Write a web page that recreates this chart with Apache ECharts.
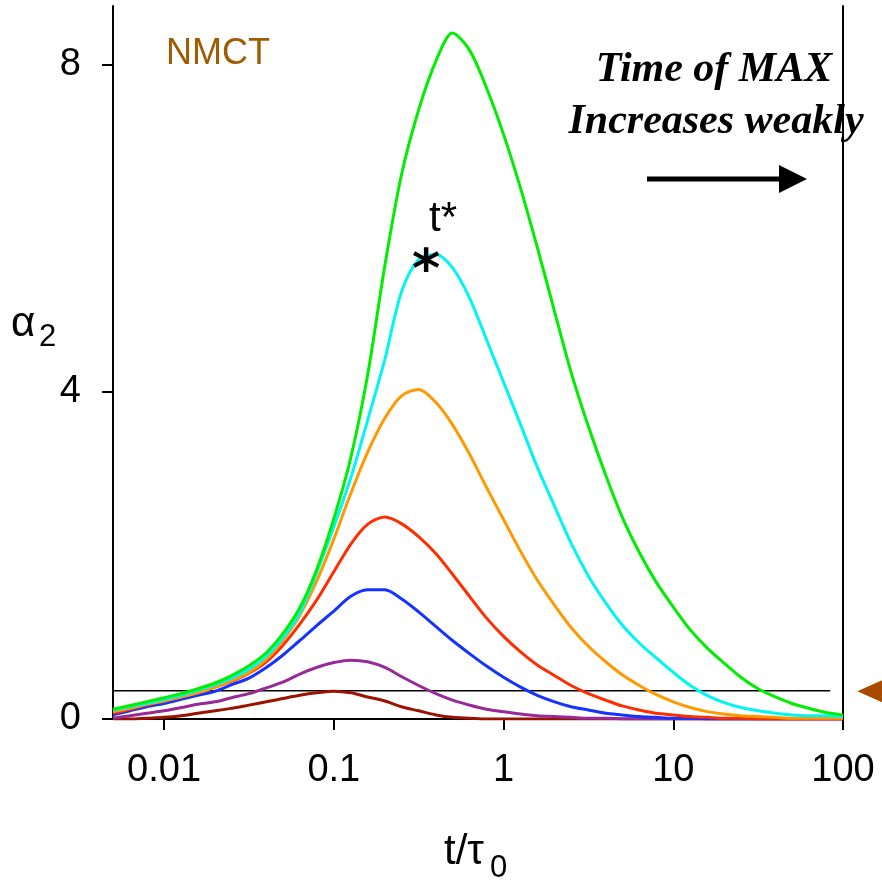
<!DOCTYPE html>
<html>
<head>
<meta charset="utf-8">
<script src="https://cdn.jsdelivr.net/npm/echarts@6/dist/echarts.min.js"></script>
<style>html,body{margin:0;padding:0;background:#fff}#c{width:882px;height:882px}</style>
</head>
<body>
<div id="c"></div>
<script>
// ---- data ----
const tVals = [0.005,0.0063,0.0079,0.01,0.0126,0.0158,0.02,0.025,0.0316,0.04,
               0.05,0.063,0.079,0.1,0.126,0.158,0.2,0.25,0.316,0.4,
               0.5,0.63,0.79,1,1.26,1.58,2,2.5,3.16,4,
               5,6.3,7.9,10,12.6,15.8,20,25,31.6,40,
               50,63,79,100];
const brownVals  = [0,0,0.01,0.02,0.04,0.07,0.1,0.13,0.17,0.21,
                    0.25,0.29,0.32,0.34,0.32,0.27,0.22,0.15,0.1,0.05,
                    0.02,0.01,0,0,0,0,0,0,0,0,
                    0,0,0,0,0,0,0,0,0,0,
                    0,0,0,0];
const purpleVals = [0.01,0.04,0.07,0.1,0.14,0.18,0.21,0.26,0.31,0.38,
                    0.45,0.55,0.63,0.69,0.72,0.7,0.63,0.52,0.41,0.31,
                    0.23,0.17,0.12,0.09,0.06,0.04,0.03,0.02,0.01,0.01,
                    0,0,0,0,0,0,0,0,0,0,
                    0,0,0,0];
const blueVals   = [0.05,0.1,0.15,0.19,0.24,0.29,0.34,0.42,0.5,0.63,
                    0.78,0.96,1.14,1.32,1.5,1.58,1.58,1.47,1.31,1.13,
                    0.96,0.8,0.65,0.51,0.39,0.29,0.21,0.15,0.11,0.07,
                    0.05,0.03,0.02,0.01,0.01,0,0,0,0,0,
                    0,0,0,0];
const redVals    = [0.07,0.12,0.17,0.22,0.27,0.32,0.39,0.46,0.56,0.7,
                    0.9,1.16,1.45,1.8,2.14,2.38,2.47,2.39,2.23,2.02,
                    1.77,1.5,1.24,1.01,0.82,0.66,0.53,0.41,0.31,0.23,
                    0.16,0.11,0.07,0.05,0.03,0.02,0.01,0.01,0,0,
                    0,0,0,0];
const orangeVals = [0.09,0.13,0.18,0.22,0.27,0.32,0.39,0.47,0.57,0.73,
                    0.96,1.27,1.68,2.2,2.76,3.26,3.68,3.95,4.03,3.87,
                    3.6,3.24,2.84,2.44,2.05,1.7,1.39,1.12,0.89,0.7,
                    0.54,0.41,0.3,0.21,0.14,0.09,0.06,0.04,0.03,0.02,
                    0.01,0.01,0.01,0.01];
const cyanVals   = [0.11,0.15,0.19,0.24,0.29,0.35,0.42,0.5,0.61,0.77,
                    0.99,1.3,1.78,2.35,2.95,3.65,4.4,5.22,5.62,5.68,
                    5.52,5.15,4.65,4.12,3.6,3.08,2.6,2.15,1.75,1.42,
                    1.15,0.93,0.75,0.57,0.41,0.29,0.2,0.14,0.1,0.07,
                    0.05,0.04,0.04,0.03];
const greenVals  = [0.12,0.165,0.21,0.26,0.31,0.37,0.44,0.53,0.65,0.81,
                    1.04,1.36,1.82,2.45,3.2,4.2,5.55,6.65,7.45,8.05,
                    8.39,8.18,7.73,7.15,6.49,5.77,4.98,4.24,3.58,2.98,
                    2.47,2.04,1.68,1.37,1.09,0.87,0.68,0.51,0.37,0.27,
                    0.19,0.13,0.08,0.05];
const xTicks = [0.01, 0.1, 1, 10, 100];
const yTicks = [0, 4, 8];
const thresholdX = [0.0043, 84];
const thresholdY = 0.346;
const markerPoint = [155, 0.34];
const tStarPoint = [0.35, 5.63];

const colors = {
  brown: '#9A1200', purple: '#982A98', blue: '#1433FF', red: '#FF2E00',
  orange: '#FF9900', cyan: '#00F5F5', green: '#00EE00'
};

const pair = v => tVals.map((t, i) => [t, v[i]]);
const FONT = 'Liberation Sans';

function curve(name, vals, color) {
  return {
    name, type: 'line', data: pair(vals), smooth: 0.3, showSymbol: false, symbol: 'none',
    lineStyle: { color, width: 3 }, z: 3
  };
}

const chart = echarts.init(document.getElementById('c'), null, { renderer: 'canvas' });
chart.setOption({
  animation: false,
  backgroundColor: '#fff',
  grid: { left: 113, right: 39, top: 6, bottom: 163, outerBoundsMode: 'none', containLabel: false },
  xAxis: {
    type: 'log', logBase: 10, min: 0.005, max: 100,
    axisLine: { show: true, onZero: false, lineStyle: { color: '#000', width: 2 } },
    axisTick: { show: true, length: 11, inside: false, customValues: xTicks, lineStyle: { color: '#000', width: 2 } },
    minorTick: { show: false },
    axisLabel: {
      customValues: xTicks, fontSize: 38, color: '#000', fontFamily: FONT, margin: 33,
      formatter: v => String(v)
    },
    splitLine: { show: false }
  },
  yAxis: [{
    type: 'value', min: 0, max: 8.72,
    axisLine: { show: true, lineStyle: { color: '#000', width: 2 } },
    axisTick: { show: true, length: 11, customValues: yTicks, lineStyle: { color: '#000', width: 2 } },
    axisLabel: { customValues: yTicks, fontSize: 38, color: '#000', fontFamily: FONT, margin: 32 },
    splitLine: { show: false }
  }, {
    type: 'value', min: 0, max: 8.72, position: 'right',
    axisLine: { show: true, lineStyle: { color: '#000', width: 2 } },
    axisTick: { show: false }, axisLabel: { show: false }, splitLine: { show: false }
  }],
  series: [
    {
      name: 'threshold', type: 'line', data: thresholdX.map(x => [x, thresholdY]), clip: false,
      showSymbol: false, symbol: 'none', lineStyle: { color: '#000', width: 1.5 }, z: 2
    },
    curve('brown', brownVals, colors.brown),
    curve('purple', purpleVals, colors.purple),
    curve('blue', blueVals, colors.blue),
    curve('red', redVals, colors.red),
    curve('orange', orangeVals, colors.orange),
    curve('cyan', cyanVals, colors.cyan),
    curve('green', greenVals, colors.green),
    {
      name: 'marker', type: 'scatter', data: [markerPoint], clip: false,
      symbol: 'triangle', symbolRotate: 90, symbolSize: [32, 36],
      itemStyle: { color: '#A84B00', opacity: 1 }, z: 5
    },
    {
      name: 'tstar', type: 'scatter', data: [tStarPoint], clip: false,
      symbolSize: 1, itemStyle: { color: 'rgba(0,0,0,0)', opacity: 1 }, z: 6,
      label: {
        show: true, position: 'inside', formatter: '*', color: '#000', opacity: 1,
        fontFamily: 'DejaVu Sans', fontWeight: 'bold', fontSize: 54, offset: [0, 14]
      }
    }
  ],
  graphic: [
    { type: 'text', x: 166, y: 54, style: { text: 'NMCT', font: '36px "Liberation Sans"', fill: '#A05A00', verticalAlign: 'middle', align: 'left' } },
    { type: 'text', x: 714, y: 70, style: { text: 'Time of MAX', font: 'italic bold 42px "Liberation Serif"', fill: '#000', verticalAlign: 'middle', align: 'center' } },
    { type: 'text', x: 716, y: 122, style: { text: 'Increases weakly', font: 'italic bold 42px "Liberation Serif"', fill: '#000', verticalAlign: 'middle', align: 'center' } },
    { type: 'line', shape: { x1: 647, y1: 179, x2: 782, y2: 179 }, style: { stroke: '#000', lineWidth: 5 } },
    { type: 'polygon', shape: { points: [[779, 165], [807, 179], [779, 193]] }, style: { fill: '#000' } },
    { type: 'text', x: 443, y: 219, style: { text: 't*', font: '42px "Liberation Sans"', fill: '#000', verticalAlign: 'middle', align: 'center' } },
    { type: 'text', x: 11, y: 324, style: { text: 'α', font: '42px "Liberation Sans"', fill: '#000', verticalAlign: 'middle', align: 'left' } },
    { type: 'text', x: 39, y: 337, style: { text: '2', font: '31px "Liberation Sans"', fill: '#000', verticalAlign: 'middle', align: 'left' } },
    { type: 'text', x: 444, y: 852, style: { text: 't/τ', font: '42px "Liberation Sans"', fill: '#000', verticalAlign: 'middle', align: 'left' } },
    { type: 'text', x: 490, y: 868, style: { text: '0', font: '31px "Liberation Sans"', fill: '#000', verticalAlign: 'middle', align: 'left' } }
  ]
});
</script>
</body>
</html>
